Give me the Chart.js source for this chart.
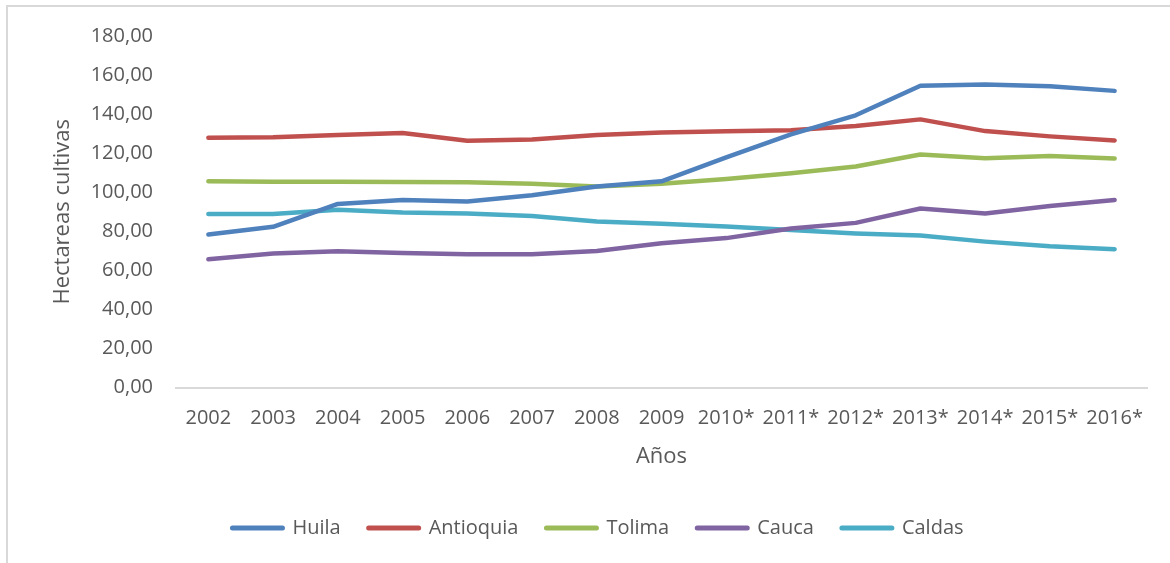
<!DOCTYPE html>
<html>
<head>
<meta charset="utf-8">
<script src="https://cdn.jsdelivr.net/npm/chart.js@4"></script>
<style>
  html, body { margin: 0; padding: 0; background: #ffffff; }
  #wrap { position: relative; width: 1170px; height: 563px; }
</style>
</head>
<body>
<div id="wrap"><canvas id="chart" width="1170" height="563"></canvas></div>
<script>
// Hectáreas cultivadas por departamento, 2002–2016 (* = estimado)
const years = ['2002', '2003', '2004', '2005', '2006', '2007', '2008', '2009',
               '2010*', '2011*', '2012*', '2013*', '2014*', '2015*', '2016*'];

const huila     = [78.3, 82.3, 94.0, 96.0, 95.3, 98.4, 102.9, 105.6, 117.9, 129.6, 139.4, 154.5, 155.2, 154.3, 151.9];
const antioquia = [127.9, 128.1, 129.3, 130.3, 126.4, 127.0, 129.3, 130.6, 131.2, 131.7, 133.9, 137.3, 131.3, 128.6, 126.5];
const tolima    = [105.6, 105.4, 105.4, 105.2, 105.1, 104.3, 102.9, 104.3, 106.8, 109.7, 113.2, 119.3, 117.4, 118.5, 117.3];
const cauca     = [65.7, 68.6, 69.8, 68.9, 68.2, 68.2, 69.9, 73.9, 76.5, 81.4, 84.3, 91.7, 89.1, 92.9, 96.0];
const caldas    = [88.8, 88.8, 91.0, 89.6, 89.1, 87.8, 85.0, 83.8, 82.4, 80.6, 78.9, 77.8, 74.7, 72.3, 70.8];

const seriesNames  = ['Huila', 'Antioquia', 'Tolima', 'Cauca', 'Caldas'];
const seriesValues = [huila, antioquia, tolima, cauca, caldas];
const seriesColors = ['#4F81BD', '#C0504D', '#9BBB59', '#8064A2', '#4BACC6'];

const yMin = 0, yMax = 180, yStep = 20;

const FONT = "'Open Sans', 'DejaVu Sans', sans-serif";
const TEXT = '#595959';

// light frame around the whole chart
const framePlugin = {
  id: 'frame',
  beforeDraw(chart) {
    const ctx = chart.ctx;
    ctx.save();
    ctx.fillStyle = '#ffffff';
    ctx.fillRect(0, 0, chart.width, chart.height);
    ctx.strokeStyle = '#d9d9d9';
    ctx.lineWidth = 2;
    ctx.strokeRect(7, 6, chart.width + 20, chart.height + 20);
    ctx.restore();
  }
};

const datasets = seriesNames.map((name, i) => ({
  label: name,
  data: seriesValues[i],
  borderColor: seriesColors[i],
  backgroundColor: seriesColors[i],
  borderWidth: 4.5,
  borderCapStyle: 'round',
  borderJoinStyle: 'round',
  pointRadius: 0,
  pointHoverRadius: 0,
  tension: 0,
  fill: false
}));

new Chart(document.getElementById('chart'), {
  type: 'line',
  data: { labels: years, datasets },
  plugins: [framePlugin],
  options: {
    responsive: false,
    animation: false,
    events: [],
    layout: { padding: { left: 49, right: 23, top: 36, bottom: 15 } },
    plugins: {
      tooltip: { enabled: false },
      legend: {
        position: 'bottom',
        align: 'center',
        labels: {
          usePointStyle: true,
          pointStyle: 'line',
          pointStyleWidth: 50,
          boxHeight: 20,
          padding: 28,
          color: TEXT,
          font: { family: FONT, size: 20 },
          generateLabels(chart) {
            return chart.data.datasets.map((ds, i) => ({
              text: ds.label,
              fillStyle: ds.borderColor,
              strokeStyle: ds.borderColor,
              lineWidth: 5,
              lineCap: 'round',
              pointStyle: 'line',
              fontColor: TEXT,
              hidden: false,
              datasetIndex: i
            }));
          }
        }
      }
    },
    scales: {
      x: {
        offset: true,
        grid: { display: false, drawTicks: false },
        border: { display: true, color: '#d9d9d9', width: 2 },
        ticks: {
          color: TEXT,
          font: { family: FONT, size: 20 },
          padding: 19,
          maxRotation: 0,
          autoSkip: false
        },
        title: {
          display: true,
          text: 'Años',
          color: TEXT,
          font: { family: FONT, size: 22 },
          padding: { top: 0, bottom: 20 }
        },
        afterFit(scale) { scale.height = 102.5; }
      },
      y: {
        min: yMin,
        max: yMax,
        grid: { display: false, drawTicks: false },
        border: { display: false },
        ticks: {
          stepSize: yStep,
          color: TEXT,
          font: { family: FONT, size: 20 },
          padding: 23,
          callback: (v) => Number(v).toFixed(2).replace('.', ',')
        },
        title: {
          display: true,
          text: 'Hectareas cultivas',
          color: TEXT,
          font: { family: FONT, size: 22 },
          padding: { top: 1, bottom: 0 }
        },
        afterFit(scale) { scale.width = 127; }
      }
    }
  }
});
</script>
</body>
</html>
